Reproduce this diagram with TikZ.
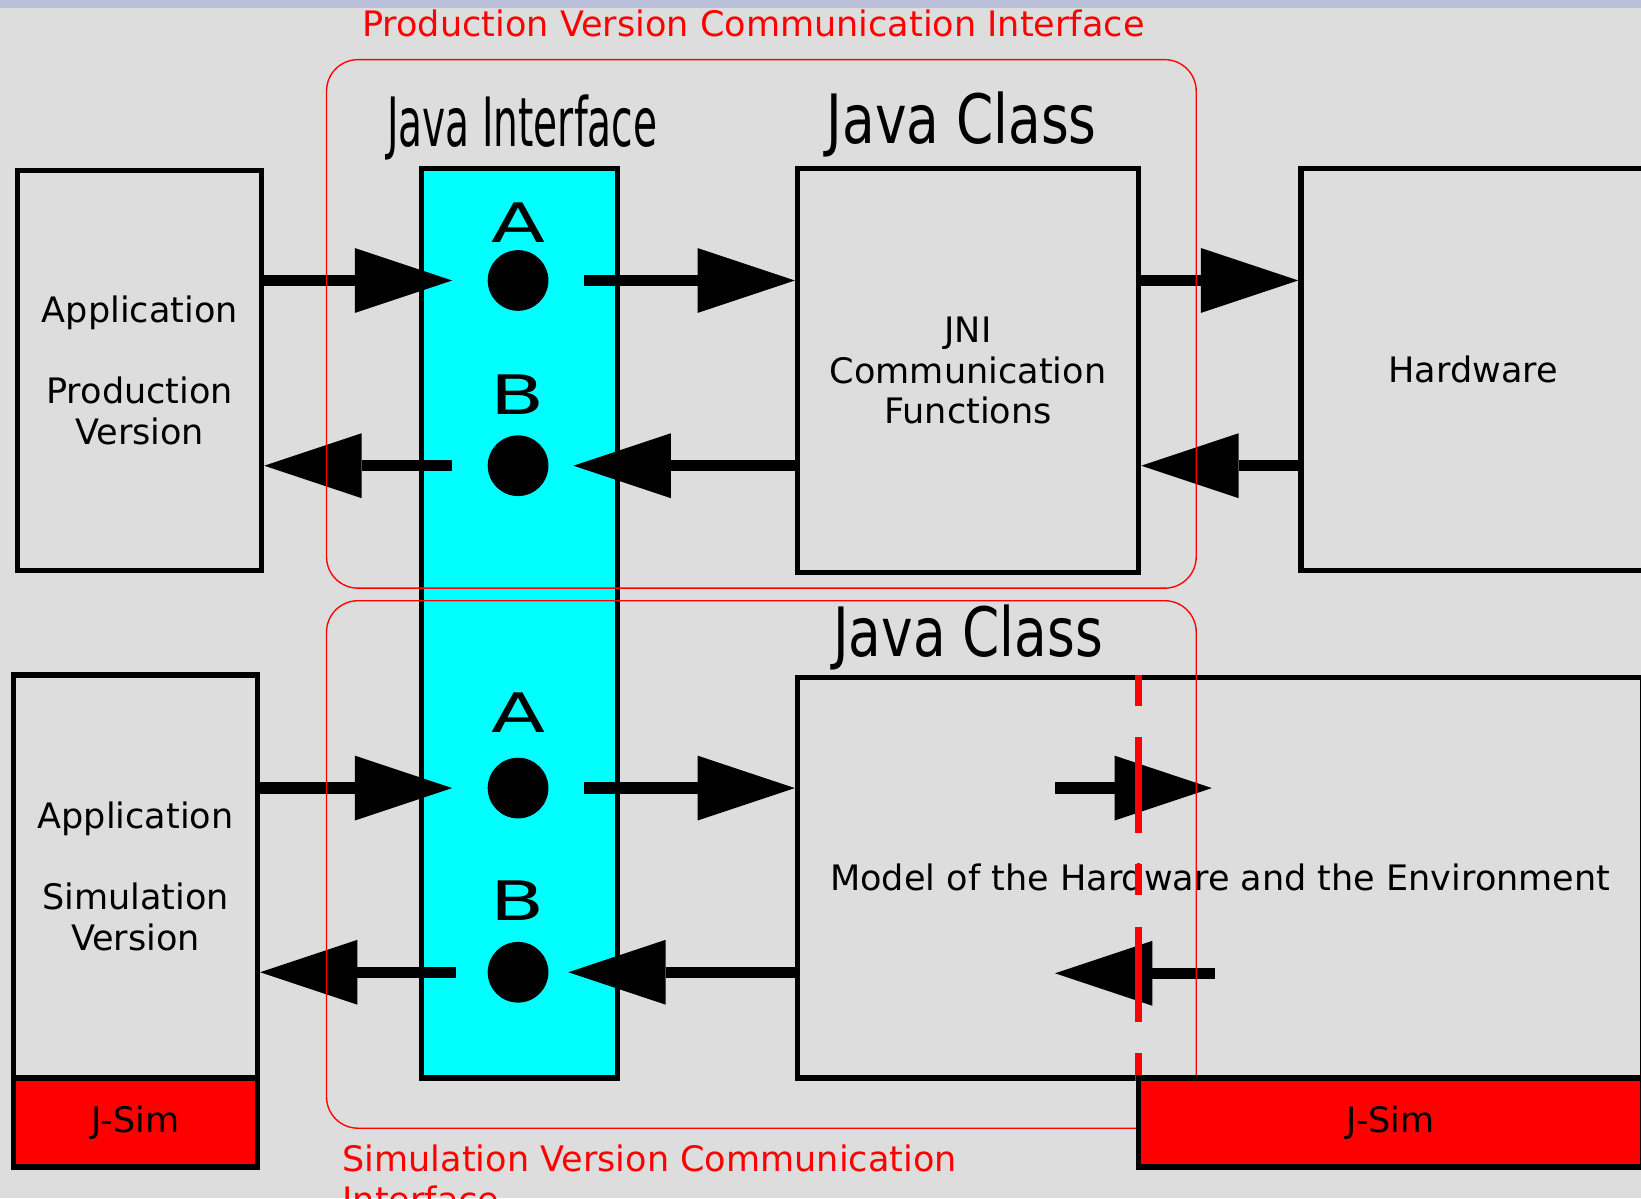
\documentclass[tikz,border=0pt]{standalone}
\usepackage{fontspec}
\setmainfont{DejaVu Sans}
\usepackage{graphicx}
\usetikzlibrary{arrows.meta,positioning}
\definecolor{cBg}{RGB}{221,221,221}
\definecolor{cBar}{RGB}{185,191,216}
\definecolor{cIf}{RGB}{0,255,255}
\definecolor{cSim}{RGB}{255,0,0}
\newcommand{\bodyfont}{\fontsize{33.5}{39}\selectfont}
\newcommand{\headfont}{\fontsize{65}{70}\selectfont}
\newcommand{\portfont}{\fontsize{52}{56}\selectfont}

\begin{document}
\begin{tikzpicture}[x=1pt, y=-1pt,
  box/.style={draw, line width=5pt, font=\bodyfont, align=center, inner sep=0pt},
  jsim/.style={box, fill=cSim},
  frame/.style={draw=cSim, line width=1.3pt, rounded corners=30pt, inner sep=0pt},
  dot/.style={circle, fill=black, minimum size=58pt, inner sep=0pt, outer sep=34pt},
  port/.style={font=\portfont, anchor=base, inner sep=0pt},
  head/.style={font=\headfont, anchor=base, inner sep=0pt},
  arr/.style={line width=11pt, -{Triangle[length=93pt, width=62pt, line width=0pt]}},
  note/.style={font=\bodyfont, text=cSim, anchor=north west, inner sep=0pt, align=left}]
\useasboundingbox (0,0) rectangle (1568,1145);
\fill[cBg] (0,0) rectangle (1568,1145);
\fill[cBar] (0,0) rectangle (1568,8);
\node[box, minimum width=233pt, minimum height=382pt] (appP) at (133.5,354) {Application\\[39pt]Production\\Version};
\node[box, fill=cIf, minimum width=187pt, minimum height=869pt] (jif) at (496.5,595.5) {};
\node[box, minimum width=326pt, minimum height=386pt] (jni) at (925,354) {JNI\\Communication\\Functions};
\node[box, minimum width=329pt, minimum height=384pt] (hw) at (1407.5,353) {Hardware};
\node[box, minimum width=233pt, minimum height=385pt] (appS) at (129.5,837.5) {Application\\[39pt]Simulation\\Version};
\node[box, minimum width=808pt, minimum height=383pt] (model) at (1166,838.5) {Model of the Hardware and the Environment};
\node[dot] (a1) at (495,268) {};
\node[dot] (b1) at (495,445) {};
\node[dot] (a2) at (495,753) {};
\node[dot] (b2) at (495,929) {};
\coordinate (m1) at (1008,753);
\coordinate (m2) at (1158,753);
\coordinate (m3) at (1161,930);
\coordinate (m4) at (1008,930);
\draw[arr] (appP.east |- a1) -- (a1.west);
\draw[arr] (a1.east) -- (jni.west |- a1);
\draw[arr] (jni.east |- a1) -- (hw.west |- a1);
\draw[arr] (b1.west) -- (appP.east |- b1);
\draw[arr, shorten >=-10pt] (jni.west |- b1) -- (b1.east);
\draw[arr] (hw.west |- b1) -- (jni.east |- b1);
\draw[arr] (appS.east |- a2) -- (a2.west);
\draw[arr] (a2.east) -- (model.west |- a2);
\draw[arr, shorten <=-4pt] (b2.west) -- (appS.east |- b2);
\draw[arr, shorten >=-15pt] (model.west |- b2) -- (b2.east);
\draw[arr] (m1) -- (m2);
\draw[arr] (m3) -- (m4);
\draw[cSim, line width=7pt, dash pattern=on 30pt off 30pt on 91pt off 30pt] ([xshift=-2.5pt]jni.east |- model.north) -- ([xshift=-2.5pt]jni.east |- model.south);
\node[frame, minimum width=831pt, minimum height=505pt] (prodIf) at (727.5,309.5) {};
\node[frame, minimum width=831pt, minimum height=504pt] (simIf) at (727.5,826) {};
\node[jsim, minimum width=233pt, minimum height=85pt] (jsimL) at (129.5,1072.5) {J-Sim};
\node[jsim, minimum width=482pt, minimum height=85pt] (jsimR) at (1329,1072.5) {J-Sim};
\node[head] (jifT) at (499,140) {\scalebox{0.575}[1]{Java Interface}};
\node[head] (jniT) at (919,137) {\scalebox{0.784}[1]{Java Class}};
\node[head] (modelT) at (925,627) {\scalebox{0.784}[1]{Java Class}};
\node[port] (la1) at (495,232) {\scalebox{1.45}[1]{A}};
\node[port] (lb1) at (495,396) {\scalebox{1.45}[1]{B}};
\node[port] (la2) at (495,700) {\scalebox{1.45}[1]{A}};
\node[port] (lb2) at (495,880) {\scalebox{1.45}[1]{B}};
\node[note, anchor=base west] (prodT) at (346,35) {Production Version Communication Interface};
\node[note] (simT) at (327,1093.5) {Simulation Version Communication\\Interface};
\end{tikzpicture}
\end{document}
